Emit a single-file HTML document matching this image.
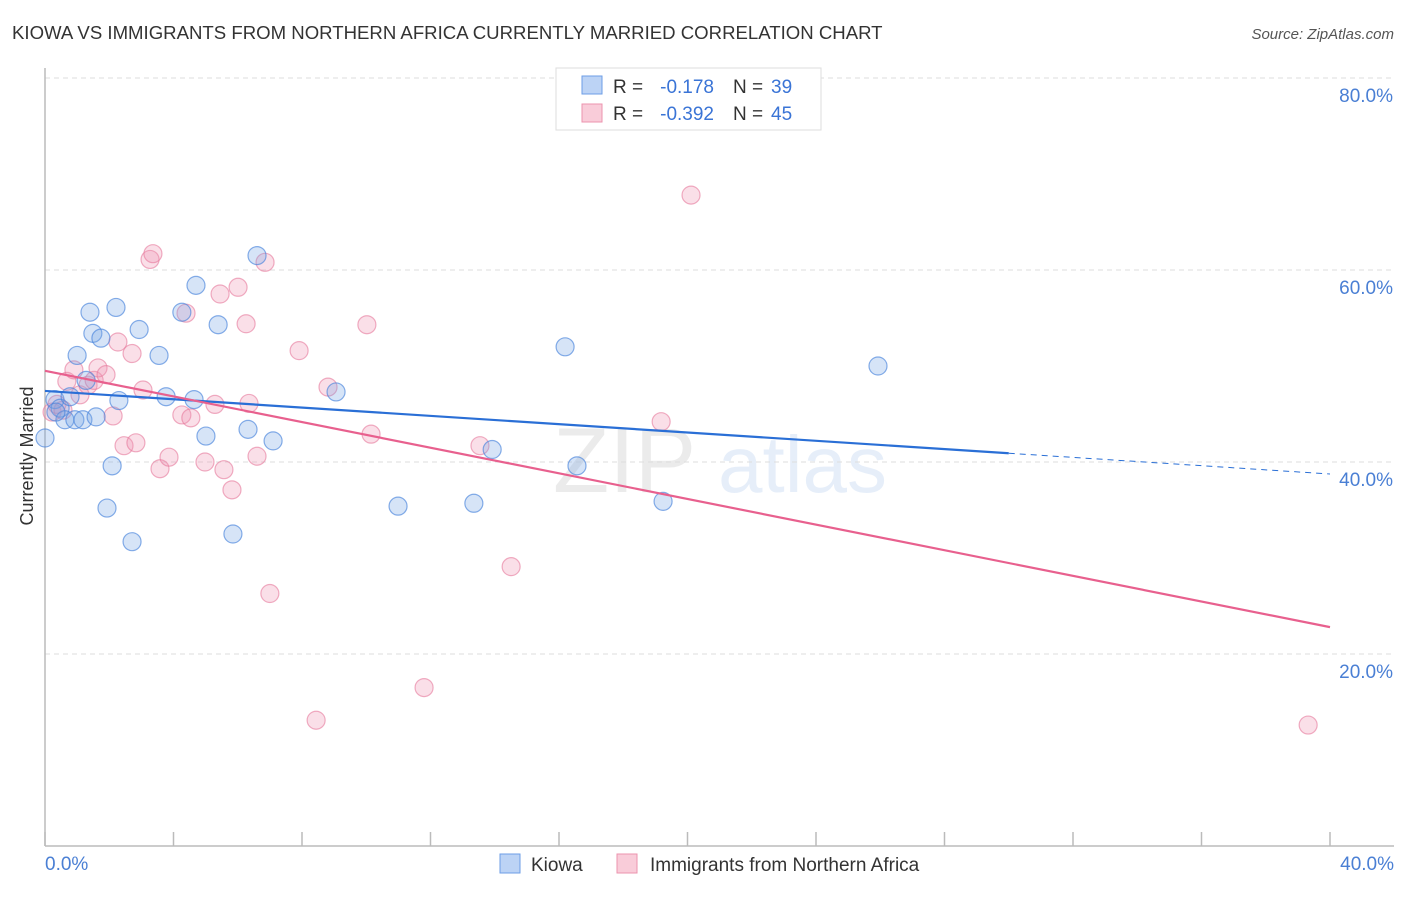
<!DOCTYPE html>
<html><head><meta charset="utf-8"><style>
body{margin:0;background:#fff;font-family:"Liberation Sans",sans-serif}
svg text{font-family:"Liberation Sans",sans-serif}
</style></head><body>
<svg id="chart" width="1406" height="892" viewBox="0 0 1406 892" xmlns="http://www.w3.org/2000/svg">
<text x="12" y="39" font-size="18.6" fill="#333">KIOWA VS IMMIGRANTS FROM NORTHERN AFRICA CURRENTLY MARRIED CORRELATION CHART</text>
<text x="1394" y="39" font-size="15" fill="#555" font-style="italic" text-anchor="end">Source: ZipAtlas.com</text>
<g opacity="0.16">
<text x="553" y="492" font-size="92" fill="#888" font-family="Liberation Serif,serif">ZIP</text>
<text x="718" y="492" font-size="80" fill="#6a9ce0">atlas</text>
</g>
<g id="grid"></g>
<line x1="45" y1="68" x2="45" y2="846" stroke="#bbb" stroke-width="1.5"/>
<line x1="45" y1="846" x2="1394" y2="846" stroke="#bbb" stroke-width="1.5"/>
<g id="xticks"></g>
<text transform="translate(33,456) rotate(-90)" font-size="18" fill="#333" text-anchor="middle">Currently Married</text>
<text x="45" y="870" font-size="19" fill="#4a7fd4">0.0%</text>
<text x="1394" y="870" font-size="19" fill="#4a7fd4" text-anchor="end">40.0%</text>
<g id="pts"></g>
<g id="lines"></g>
<g>
<rect x="556" y="68" width="265" height="62" fill="#fff" stroke="#ddd"/>
<rect x="582" y="76" width="20" height="18" fill="#bcd3f5" stroke="#6d9ee6"/>
<rect x="582" y="104" width="20" height="18" fill="#f9ccd9" stroke="#ec93ae"/>
<text x="613" y="93" font-size="19" fill="#333">R =</text>
<text x="714" y="93" font-size="19" fill="#3a74d6" text-anchor="end">-0.178</text>
<text x="733" y="93" font-size="19" fill="#333">N =</text>
<text x="771" y="93" font-size="19" fill="#3a74d6">39</text>
<text x="613" y="120" font-size="19" fill="#333">R =</text>
<text x="714" y="120" font-size="19" fill="#3a74d6" text-anchor="end">-0.392</text>
<text x="733" y="120" font-size="19" fill="#333">N =</text>
<text x="771" y="120" font-size="19" fill="#3a74d6">45</text>
</g>
<g>
<rect x="500" y="854" width="20" height="19" fill="#bcd3f5" stroke="#6d9ee6"/>
<text x="531" y="871" font-size="19" fill="#333">Kiowa</text>
<rect x="617" y="854" width="20" height="19" fill="#f9ccd9" stroke="#ec93ae"/>
<text x="650" y="871" font-size="19" fill="#333">Immigrants from Northern Africa</text>
</g>
</svg>
<script>
const yTicks=[20,40,60,80];
const yTickLabels=["20.0%","40.0%","60.0%","80.0%"];
const xTicks=[0,4,8,12,16,20,24,28,32,36,40];
const kiowaX=[0,0.31,0.47,0.62,0.78,0.93,1.18,1.59,1.0,1.4,1.49,1.74,1.28,2.09,2.21,2.3,1.93,2.71,2.93,3.55,3.77,4.26,4.7,4.64,5.01,5.39,5.85,6.32,6.6,7.1,9.06,10.99,13.35,13.92,16.19,16.56,19.24,25.93,0.34];
const kiowaY=[42.5,46.5,45.6,44.4,46.8,44.4,44.4,44.7,51.1,55.6,53.4,52.9,48.5,39.6,56.1,46.4,35.2,31.7,53.8,51.1,46.8,55.6,58.4,46.5,42.7,54.3,32.5,43.4,61.5,42.2,47.3,35.4,35.7,41.3,52.0,39.6,35.9,50.0,45.2];
const immX=[0.22,0.37,0.56,0.68,0.9,1.09,1.34,1.53,1.65,1.9,2.12,2.27,2.46,2.71,2.83,3.05,3.27,3.36,3.58,3.86,4.26,4.39,4.54,4.98,5.29,5.45,5.57,5.82,6.01,6.26,6.35,6.6,6.85,7.0,7.91,8.44,8.81,10.02,10.15,11.8,13.54,14.51,19.18,20.11,39.32];
const immY=[45.2,46.0,45.4,48.4,49.6,47.0,48.0,48.5,49.8,49.1,44.8,52.5,41.7,51.3,42.0,47.5,61.1,61.7,39.3,40.5,44.9,55.5,44.6,40.0,46.0,57.5,39.2,37.1,58.2,54.4,46.1,40.6,60.8,26.3,51.6,13.1,47.8,54.3,42.9,16.5,41.7,29.1,44.2,67.8,12.6];
const kiowaTrend=[47.4,38.75];
const immTrend=[49.5,22.8];
const NS="http://www.w3.org/2000/svg";
const sx=v=>45+v/40*1285;
const sy=v=>846-v/20*192;
function mk(t,a,p){const e=document.createElementNS(NS,t);for(const k in a)e.setAttribute(k,a[k]);p.appendChild(e);return e;}
const grid=document.getElementById('grid');
yTicks.forEach((t,i)=>{
 const l=mk('line',{x1:45,x2:1394,y1:sy(t),y2:sy(t),stroke:'#ddd','stroke-dasharray':'5,4'},grid);
 
 
 const tx=mk('text',{x:1393,y:sy(t)+24,'font-size':19,fill:'#4a7fd4','text-anchor':'end'},grid);
 tx.textContent=yTickLabels[i];
 
 
});
const xt=document.getElementById('xticks');
xTicks.forEach(t=>{
 const l=mk('line',{x1:sx(t),x2:sx(t),y1:832,y2:846,stroke:'#bbb','stroke-width':1.5},xt);
 
 
});
const pts=document.getElementById('pts');
immX.forEach((x,i)=>{
 const c=mk('circle',{cx:sx(x),cy:sy(immY[i]),r:9,fill:'rgba(240,150,180,0.3)',stroke:'rgba(230,120,155,0.6)','stroke-width':1.2},pts);
 
 
});
kiowaX.forEach((x,i)=>{
 const c=mk('circle',{cx:sx(x),cy:sy(kiowaY[i]),r:9,fill:'rgba(120,165,230,0.3)',stroke:'rgba(70,130,220,0.65)','stroke-width':1.2},pts);
 
 
});
const ln=document.getElementById('lines');
const kAt=x=>kiowaTrend[0]+(kiowaTrend[1]-kiowaTrend[0])*x/40;
let a=mk('line',{x1:sx(0),y1:sy(kAt(0)),x2:sx(30),y2:sy(kAt(30)),stroke:'#2a6fd6','stroke-width':2.2},ln);


a=mk('line',{x1:sx(30),y1:sy(kAt(30)),x2:sx(40),y2:sy(kAt(40)),stroke:'#2a6fd6','stroke-width':1,'stroke-dasharray':'6,5'},ln);


a=mk('line',{x1:sx(0),y1:sy(immTrend[0]),x2:sx(40),y2:sy(immTrend[1]),stroke:'#e8608e','stroke-width':2.2},ln);


</script>
</body></html>
